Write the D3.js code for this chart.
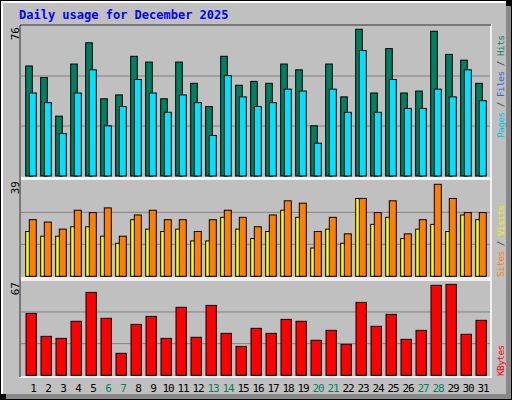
<!DOCTYPE html>
<html><head><meta charset="utf-8">
<script src="https://cdn.jsdelivr.net/npm/d3@7"></script>
<style>body{margin:0;background:#fff}text{font-family:"DejaVu Sans Mono",monospace}</style>
</head><body>
<script>
let days = d3.range(1, 32)
let weekend = [6, 7, 13, 14, 20, 21, 27, 28]
let hits = [57,51,31,58,69,40,42,62,59,40,59,48,36,62,47,49,48,58,55,26,58,41,76,43,66,43,44,75,63,60,48]
let pages = [43,38,22,43,55,26,36,50,43,33,42,38,21,52,41,36,38,45,44,17,45,33,65,33,50,35,35,45,41,55,39]
let visitors = [19,17,17,21,21,17,14,24,20,19,20,15,15,25,20,16,19,28,25,12,20,14,33,22,25,16,20,22,19,26,24]
let visits = [24,23,20,28,27,29,17,26,28,24,24,19,24,28,25,21,26,32,31,19,25,18,33,27,32,18,24,39,33,27,27]
let kbytes = [45.6,28.7,27.2,39.8,61.1,42,16.2,37.5,43.4,27.2,50.1,28,51.5,30.9,21.3,34.6,30.9,41.2,39.8,25.8,33.1,22.8,53.7,36.1,44.9,26.5,33.1,66.3,67,30.2,40.5]
let maxLabels = ['76', '39', '67']

let main = function() {
	let svg = d3.select('body').append('svg').attr('width', 512).attr('height', 400)
	svg.append('rect').attr('x', 0).attr('y', 0).attr('width', 512).attr('height', 400).attr('fill', '#000')
	svg.append('rect').attr('x', 1).attr('y', 1).attr('width', 505).attr('height', 393).attr('fill', '#fff')
	svg.append('rect').attr('x', 3).attr('y', 3).attr('width', 503).attr('height', 391).attr('fill', '#c0c0c0')
	svg.append('rect').attr('x', 506).attr('y', 6).attr('width', 5).attr('height', 393).attr('fill', '#888')
	svg.append('rect').attr('x', 6).attr('y', 394).attr('width', 505).attr('height', 5).attr('fill', '#888')

	svg.append('text').attr('x', 19).attr('y', 19).attr('fill', '#0000ff')
		.attr('font-size', 12).attr('font-weight', 'bold').text('Daily usage for December 2025')

	let x = d3.scaleLinear().domain([1, 31]).range([33, 483])

	let panels = [
		{ top: 26, bottom: 176, max: 77.7, frameTop: 25, frameBottom: 178 },
		{ top: 180.3, bottom: 276.3, max: 40.7, frameTop: 179, frameBottom: 278 },
		{ top: 280.3, bottom: 375.3, max: 70, frameTop: 280, frameBottom: 377 }
	]
	panels.forEach(function(p, i) {
		p.y = d3.scaleLinear().domain([0, p.max]).range([p.bottom, p.top])
		svg.append('rect').attr('x', 20).attr('y', p.frameTop).attr('width', 471)
			.attr('height', p.frameBottom - p.frameTop).attr('fill', '#c0c0c0')
			.attr('stroke', '#fff').attr('stroke-width', 1.5)
		;[1, 2].forEach(function(k) {
			let gy = p.bottom - (p.bottom - p.top) * k / 3
			svg.append('line').attr('x1', 21).attr('x2', 490).attr('y1', gy).attr('y2', gy)
				.attr('stroke', '#808080').attr('stroke-width', 1)
		})
		svg.append('text').attr('transform', 'translate(19,' + (p.frameTop + 2) + ') rotate(-90)')
			.attr('text-anchor', 'end').attr('font-size', 11).attr('fill', '#000').text(maxLabels[i])
	})
	svg.append('line').attr('x1', 20).attr('x2', 20).attr('y1', 25).attr('y2', 377).attr('stroke', '#000')
	svg.append('line').attr('x1', 20).attr('x2', 491).attr('y1', 25).attr('y2', 25).attr('stroke', '#000')

	let drawBars = function(data, p, dx, w, color) {
		svg.append('g').selectAll('rect').data(data).join('rect')
			.attr('x', (d, i) => x(days[i]) + dx)
			.attr('y', d => p.y(d))
			.attr('width', w)
			.attr('height', d => p.bottom - p.y(d))
			.attr('fill', color).attr('stroke', '#000').attr('stroke-width', 1)
	}
	drawBars(hits, panels[0], -7.3, 6.6, '#008060')
	drawBars(pages, panels[0], -3.7, 7, '#00e0ff')
	drawBars(visitors, panels[1], -7.3, 6.6, '#ffff00')
	drawBars(visits, panels[1], -3.7, 7, '#ff8000')
	drawBars(kbytes, panels[2], -7, 10.4, '#ff0000')

	svg.append('g').selectAll('text').data(days).join('text')
		.attr('x', d => x(d)).attr('y', 392).attr('text-anchor', 'middle').attr('font-size', 11)
		.attr('letter-spacing', -1.2)
		.attr('fill', d => weekend.includes(d) ? '#008060' : '#000').text(d => d)

	let legend = function(yBase, parts) {
		let t = svg.append('text').attr('transform', 'translate(504,' + yBase + ') rotate(-90)')
			.attr('font-size', 9.5).attr('letter-spacing', -0.6).attr('text-anchor', 'start')
		parts.forEach(function(pt) { t.append('tspan').attr('fill', pt[1]).text(pt[0]) })
	}
	legend(138, [['Pages', '#00c0e0'], [' / ', '#444'], ['Files', '#4060d0'], [' / ', '#444'], ['Hits', '#008060']])
	legend(277, [['Sites', '#ff8000'], [' / ', '#444'], ['Visits', '#f0f000']])
	legend(376, [['KBytes', '#ff0000']])
}
main()
</script>
</body></html>
